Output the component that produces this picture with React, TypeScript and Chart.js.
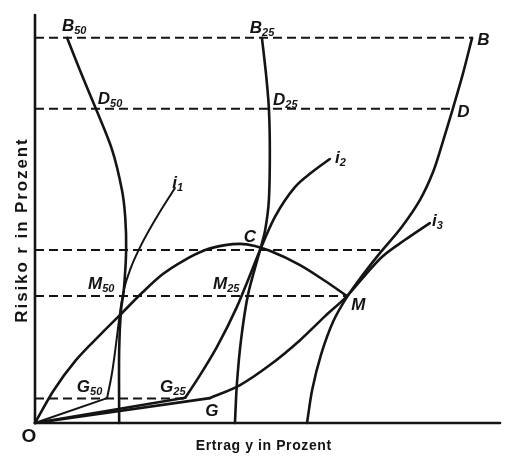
import React, { useEffect, useRef } from 'react';
import { Chart, registerables } from 'chart.js';

Chart.register(...registerables);

// Curve data (x = Ertrag y, y = Risiko r; abstract 0..100 units)
const B50_X = [6.9, 9.9, 13.1, 16.6, 18.7, 19.4, 19.6, 19.1, 18.5, 18.1, 18.1];
const B50_Y = [94.4, 85.8, 77.0, 66.9, 57.1, 50.5, 42.4, 32.6, 27.7, 17.9, 0];

const B25_X = [48.8, 49.7, 50.3, 50.5, 50.3, 49.5, 48.4, 45.8, 44.3, 43.4, 43.0];
const B25_Y = [94.4, 85.3, 77.0, 66.9, 54.7, 47.3, 42.4, 31.4, 20.3, 9.3, 0];

const B_X = [94.0, 92.0, 89.9, 87.7, 85.6, 82.8, 78.7, 74.2, 70.3, 67.1, 64.1, 61.5, 59.6, 58.5];
const B_Y = [94.4, 85.5, 77.2, 68.9, 61.5, 54.7, 47.8, 41.7, 36.0, 30.9, 24.8, 16.7, 8.1, 0];

const I1_BASE_X = [0, 15.5];
const I1_BASE_Y = [0, 6.1];
const I1_X = [15.5, 16.6, 17.4, 18.3, 19.1, 20.6, 22.6, 26.2, 30.1];
const I1_Y = [6.1, 12.5, 19.1, 27.2, 32.6, 38.0, 43.1, 50.5, 57.6];

const I2_BASE_X = [0, 32.3];
const I2_BASE_Y = [0, 6.2];
const I2_X = [32.3, 34.8, 39.1, 43.4, 45.8, 48.4, 51.6, 55.9, 59.6, 63.4];
const I2_Y = [6.2, 10.5, 18.6, 28.4, 35.0, 42.4, 50.5, 57.8, 61.5, 64.7];

const I3_BASE_X = [0, 37.6];
const I3_BASE_Y = [0, 6.1];
const I3_X = [37.6, 44.1, 50.5, 57.0, 62.4, 67.1, 71.2, 74.6, 79.6, 84.9];
const I3_Y = [6.1, 9.3, 14.2, 20.3, 26.2, 31.1, 36.5, 40.7, 44.9, 49.0];

const ARC_X = [0, 3.9, 8.8, 14.0, 18.3, 23.2, 27.5, 31.8, 36.6, 40.9, 44.1, 47.3, 50.5, 57.0, 62.4, 67.1];
const ARC_Y = [0, 7.8, 15.4, 21.6, 26.5, 32.1, 36.5, 39.7, 42.4, 43.6, 43.9, 43.4, 42.2, 38.7, 34.8, 31.1];

// Horizontal dashed reference levels and where they end
const LEVEL_Y = [94.4, 77.0, 42.4, 31.1, 6.0];
const LEVEL_END_X = [94.0, 89.8, 74.6, 67.1, 32.3];

// Point labels
const LABEL_MAIN = ['B', 'D', 'i', 'B', 'D', 'B', 'D', 'i', 'C', 'i', 'M', 'M', 'M', 'G', 'G', 'G'];
const LABEL_SUB = ['50', '50', '1', '25', '25', '', '', '2', '', '3', '50', '25', '', '50', '25', ''];
const LABEL_X = [5.8, 13.5, 29.5, 46.2, 51.2, 95.1, 90.8, 64.5, 44.9, 85.4, 11.4, 38.3, 68.0, 9.0, 26.9, 36.6];
const LABEL_Y = [96.1, 78.2, 57.6, 95.6, 77.9, 92.6, 75.0, 63.7, 44.4, 48.3, 32.8, 32.8, 27.7, 7.6, 7.6, 1.7];

const X_TITLE = 'Ertrag y in Prozent';
const Y_TITLE = 'Risiko r in Prozent';
const ORIGIN_LABEL = 'O';

const zip = (xs: number[], ys: number[]) => xs.map((x, i) => ({ x, y: ys[i] }));

const INK = '#141414';

const labelPlugin = {
  id: 'diagramLabels',
  afterDatasetsDraw(chart: any) {
    const { ctx, scales, chartArea } = chart;
    const sx = scales.x;
    const sy = scales.y;
    ctx.save();
    ctx.fillStyle = INK;
    ctx.textBaseline = 'alphabetic';
    ctx.textAlign = 'left';
    for (let i = 0; i < LABEL_MAIN.length; i++) {
      const px = sx.getPixelForValue(LABEL_X[i]);
      const py = sy.getPixelForValue(LABEL_Y[i]);
      ctx.font = 'italic bold 17px "Liberation Sans", Arial, sans-serif';
      ctx.fillText(LABEL_MAIN[i], px, py);
      const w = ctx.measureText(LABEL_MAIN[i]).width;
      if (LABEL_SUB[i]) {
        ctx.font = 'italic bold 11px "Liberation Sans", Arial, sans-serif';
        ctx.fillText(LABEL_SUB[i], px + w, py + 3);
      }
    }
    // origin
    ctx.font = 'bold 19px "Liberation Sans", Arial, sans-serif';
    ctx.textAlign = 'center';
    ctx.textBaseline = 'middle';
    ctx.fillText(ORIGIN_LABEL, chartArea.left - 6, chartArea.bottom + 14);
    // x title
    ctx.save();
    ctx.font = 'bold 14px "Liberation Sans", Arial, sans-serif';
    (ctx as any).letterSpacing = '0.6px';
    ctx.textBaseline = 'alphabetic';
    ctx.fillText(X_TITLE, sx.getPixelForValue(49.2), chartArea.bottom + 27);
    ctx.restore();
    // y title
    ctx.save();
    ctx.translate(chartArea.left - 13, (chartArea.top + chartArea.bottom) / 2 + 11);
    ctx.rotate(-Math.PI / 2);
    ctx.font = 'bold 17px "Liberation Sans", Arial, sans-serif';
    (ctx as any).letterSpacing = '1.9px';
    ctx.textAlign = 'center';
    ctx.textBaseline = 'middle';
    ctx.fillText(Y_TITLE, 0, 0);
    ctx.restore();
    ctx.restore();
  },
};

export default function App() {
  const ref = useRef<HTMLCanvasElement | null>(null);

  useEffect(() => {
    document.body.style.margin = '0';
    const canvas = ref.current;
    if (!canvas) return;

    const line = (pts: { x: number; y: number }[], width: number, mode: 'straight' | 'smooth' | 'monotone') => ({
      data: pts,
      showLine: true,
      borderColor: INK,
      borderWidth: width,
      pointRadius: 0,
      tension: mode === 'smooth' ? 0.3 : 0,
      cubicInterpolationMode: mode === 'monotone' ? 'monotone' : 'default',
      fill: false,
      clip: false as any,
      borderCapStyle: 'round' as const,
      borderJoinStyle: 'round' as const,
    });

    const datasets: any[] = [
      // axes
      line(zip([0, 0], [0, 100]), 2.6, 'straight'),
      line(zip([0, 100], [0, 0]), 2.6, 'straight'),
      // dashed levels
      ...LEVEL_Y.map((ly, i) => ({
        data: zip([0, LEVEL_END_X[i]], [ly, ly]),
        showLine: true,
        borderColor: INK,
        borderWidth: 2,
        borderDash: [9, 5],
        pointRadius: 0,
        tension: 0,
        clip: false,
      })),
      line(zip(B50_X, B50_Y), 2.6, 'smooth'),
      line(zip(B25_X, B25_Y), 2.6, 'smooth'),
      line(zip(B_X, B_Y), 2.6, 'smooth'),
      line(zip(I1_BASE_X, I1_BASE_Y), 2, 'straight'),
      line(zip(I1_X, I1_Y), 2, 'monotone'),
      line(zip(I2_BASE_X, I2_BASE_Y), 2.6, 'straight'),
      line(zip(I2_X, I2_Y), 2.6, 'monotone'),
      line(zip(I3_BASE_X, I3_BASE_Y), 2.6, 'straight'),
      line(zip(I3_X, I3_Y), 2.6, 'monotone'),
      line(zip(ARC_X, ARC_Y), 2.6, 'monotone'),
    ];

    const chart = new Chart(canvas, {
      type: 'scatter',
      data: { datasets },
      options: {
        animation: false,
        responsive: false,
        maintainAspectRatio: false,
        layout: { padding: { left: 35, right: 5, top: 15, bottom: 36 } },
        plugins: { legend: { display: false }, tooltip: { enabled: false } },
        scales: {
          x: { type: 'linear', min: 0, max: 100, display: false },
          y: { type: 'linear', min: 0, max: 100, display: false },
        },
      },
      plugins: [labelPlugin],
    });
    return () => chart.destroy();
  }, []);

  return (
    <div style={{ position: 'absolute', left: 0, top: 0, width: 505, height: 459, background: '#fff' }}>
      <canvas ref={ref} width={505} height={459} style={{ display: 'block', width: 505, height: 459 }} />
    </div>
  );
}
